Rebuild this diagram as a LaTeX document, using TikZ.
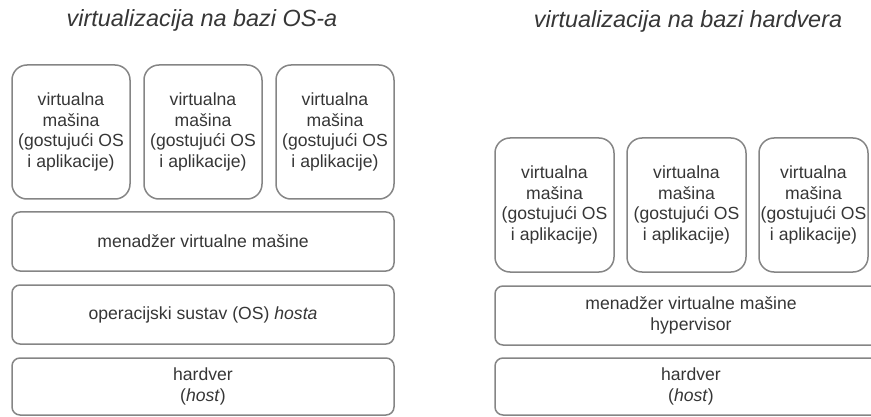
\documentclass[tikz,border=0pt]{standalone}
\usepackage{fontspec}
\setmainfont{Liberation Sans}
\usetikzlibrary{positioning}
\definecolor{boxgray}{HTML}{858585}
\definecolor{textgray}{HTML}{363636}

\begin{document}
\begin{tikzpicture}[x=1pt, y=-1pt,
        every node/.style={
            text=textgray,
            font=\fontsize{17.6}{20.6}\selectfont,
            align=center,
            inner sep=0pt,
            outer sep=0pt},
        vm/.style={draw=boxgray, line width=1.5pt, rounded corners=15pt,
            minimum width=118pt, minimum height=134pt},
        layer/.style={draw=boxgray, line width=1.5pt, rounded corners=8pt,
            minimum width=382pt, minimum height=59pt},
        title/.style={font=\fontsize{23.4}{28}\selectfont\itshape, anchor=base}]

        \useasboundingbox (0,0) rectangle (871,417);
        \clip (0,0) rectangle (871,417);

        % OS-based
        \node[title] (ostitle) at (202,27) {virtualizacija na bazi OS-a};
        \node[vm] (osvma) at (71,132) {virtualna\\mašina\\(gostujući OS\\i aplikacije)};
        \node[vm, right=14pt of osvma] (osvmb) {virtualna\\mašina\\(gostujući OS\\i aplikacije)};
        \node[vm, right=14pt of osvmb] (osvmc) {virtualna\\mašina\\(gostujući OS\\i aplikacije)};
        \node[layer, below=13pt of osvma.south west, anchor=north west] (osmgr) {menadžer virtualne mašine};
        \node[layer, below=14pt of osmgr] (osos) {operacijski sustav (OS) \textit{hosta}};
        \node[layer, below=14pt of osos, minimum height=57pt] (oshw) {hardver\\(\textit{host})};

        % hardware-based
        \node[title] (hwtitle) at (688,28) {virtualizacija na bazi hardvera};
        \node[vm, minimum width=119pt] (hwvma) at (554.5,205) {virtualna\\mašina\\(gostujući OS\\i aplikacije)};
        \node[vm, minimum width=119pt, right=13pt of hwvma] (hwvmb) {virtualna\\mašina\\(gostujući OS\\i aplikacije)};
        \node[vm, minimum width=109pt, right=13pt of hwvmb] (hwvmc) {virtualna\\mašina\\(gostujući OS\\i aplikacije)};
        \node[layer, minimum width=392pt, below=14pt of hwvma.south west, anchor=north west] (hwmgr) {menadžer virtualne mašine\\hypervisor};
        \node[layer, minimum width=392pt, minimum height=57pt, below=13pt of hwmgr] (hwhw) {hardver\\(\textit{host})};
    \end{tikzpicture}
\end{document}
